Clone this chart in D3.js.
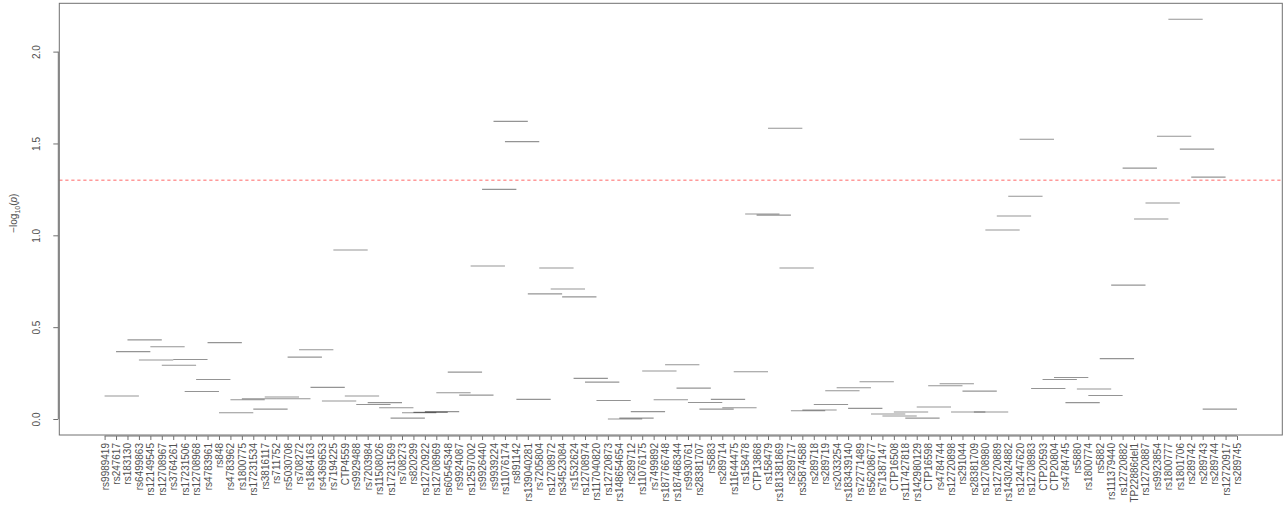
<!DOCTYPE html>
<html>
<head>
<meta charset="utf-8">
<script src="https://cdn.jsdelivr.net/npm/d3@7"></script>
<style>
  html, body { margin: 0; padding: 0; background: #ffffff; }
  svg { display: block; font-family: "Liberation Sans", Arial, sans-serif; }
</style>
</head>
<body>
<svg id="chart" width="1286" height="506"></svg>
<script>
// ---- data ----
const snpLabels = [
  "rs9989419","rs247617","rs183130","rs6499863","rs12149545","rs12708967","rs3764261","rs17231506","rs12708968","rs4783961",
  "rs848","rs4783962","rs1800775","rs17231534","rs3816117","rs711752","rs5030708","rs708272","rs1864163","rs4369653",
  "rs7194225","CTP4559","rs9929488","rs7203984","rs11508026","rs17231569","rs708273","rs820299","rs12720922","rs12708969",
  "rs60545348","rs9924087","rs12597002","rs9926440","rs9939224","rs11076174","rs891142","rs139040281","rs7205804","rs12708972",
  "rs34523084","rs1532624","rs12708974","rs117040820","rs12720873","rs148654654","rs289712","rs11076175","rs7499892","rs187766748",
  "rs187468344","rs9930761","rs28381707","rs5883","rs289714","rs11644475","rs158478","CTP13868","rs158479","rs181381869",
  "rs289717","rs35874588","rs289718","rs289719","rs2033254","rs183439140","rs72771489","rs56208677","rs71387147","CTP16508",
  "rs117427818","rs142980129","CTP16598","rs4784744","rs12720898","rs291044","rs28381709","rs12708980","rs12720889","rs143024882",
  "rs12447620","rs12708983","CTP20593","CTP20804","rs4784745","rs5880","rs1800774","rs5882","rs111379440","rs12720882",
  "TP22886del1","rs12720887","rs9923854","rs1800777","rs1801706","rs289742","rs289743","rs289744","rs12720917","rs289745"
];
// -log10(p) of each sliding window; window k covers SNPs k .. k+3
const windowValues = [
  0.125,0.367,0.431,0.321,0.393,0.293,0.324,0.150,0.215,0.416,
  0.034,0.105,0.110,0.054,0.120,0.110,0.337,0.377,0.172,0.098,
  0.920,0.125,0.079,0.089,0.061,0.005,0.034,0.036,0.040,0.143,
  0.255,0.130,0.833,1.250,1.620,1.510,0.107,0.681,0.822,0.708,
  0.665,0.221,0.201,0.101,0.000,0.005,0.040,0.261,0.105,0.295,
  0.168,0.090,0.054,0.107,0.061,0.257,1.116,1.110,1.583,0.822,
  0.045,0.049,0.079,0.154,0.170,0.058,0.203,0.027,0.016,0.038,
  0.005,0.065,0.181,0.192,0.038,0.152,0.038,1.029,1.105,1.213,
  1.523,0.166,0.215,0.226,0.089,0.163,0.128,0.329,0.729,1.366,
  1.089,1.176,1.539,2.176,1.469,1.317,0.054
];
const windowSpan = 3;          // each window spans 3 index units
const yTicks = [0, 0.5, 1, 1.5, 2];
const threshold = 1.3;         // -log10(0.05)

// ---- layout ----
const svg = d3.select("#chart");
const frame = { left: 59.3, right: 1282.3, top: 3.3, bottom: 435 };

const n = snpLabels.length;
const xPad = (n - 1) * 0.04;
const x = d3.scaleLinear().domain([1 - xPad, n + xPad]).range([frame.left, frame.right]);
const yMin = 0, yMax = d3.max(windowValues);
const yPad = (yMax - yMin) * 0.04;
const y = d3.scaleLinear().domain([yMin - yPad, yMax + yPad]).range([frame.bottom, frame.top]);

const axisColor = "#707070";
const textColor = "#505050";

// segments
svg.append("g")
  .selectAll("line")
  .data(windowValues)
  .join("line")
  .attr("x1", (d, i) => x(i + 1))
  .attr("x2", (d, i) => x(i + 1 + windowSpan))
  .attr("y1", d => y(d))
  .attr("y2", d => y(d))
  .attr("stroke", "#000")
  .attr("stroke-opacity", 0.42)
  .attr("stroke-width", 1.1);

// threshold line
svg.append("line")
  .attr("x1", frame.left).attr("x2", frame.right)
  .attr("y1", y(threshold)).attr("y2", y(threshold))
  .attr("stroke", "#ff9a9a")
  .attr("stroke-width", 1.5)
  .attr("stroke-dasharray", "3.2,2.8");

// frame
svg.append("rect")
  .attr("x", frame.left).attr("y", frame.top)
  .attr("width", frame.right - frame.left)
  .attr("height", frame.bottom - frame.top)
  .attr("fill", "none")
  .attr("stroke", axisColor)
  .attr("stroke-width", 1);

// y axis
const yAxis = d3.axisLeft(y).tickValues(yTicks).tickFormat(d3.format(".1f")).tickSize(5).tickPadding(9);
const gy = svg.append("g").attr("transform", `translate(${frame.left - 1},0)`).call(yAxis);
gy.selectAll(".domain").remove();
gy.append("path").attr("d", `M0,${y(0)}V${y(2)}`).attr("stroke", axisColor).attr("fill", "none");
gy.selectAll(".tick line").attr("stroke", axisColor);
gy.selectAll(".tick text")
  .attr("fill", textColor)
  .attr("font-size", "10px")
  .attr("x", 0).attr("dy", 0)
  .attr("text-anchor", "middle")
  .attr("transform", "translate(-18,0) rotate(-90)");

// x axis
const xAxis = d3.axisBottom(x).tickValues(d3.range(1, n + 1)).tickFormat(d => snpLabels[d - 1]).tickSize(4).tickPadding(4);
const gx = svg.append("g").attr("transform", `translate(0,${frame.bottom + 1})`).call(xAxis);
gx.select(".domain").remove();
gx.append("path").attr("d", `M${x(1)},0H${x(n)}`).attr("stroke", axisColor).attr("fill", "none");
gx.selectAll(".tick line").attr("stroke", axisColor);
gx.selectAll(".tick text")
  .attr("fill", textColor)
  .attr("font-size", "10px")
  .attr("text-anchor", "end")
  .attr("dy", "0.35em")
  .attr("x", 0).attr("y", 0)
  .attr("transform", "translate(0,7) rotate(-90)");

// y axis title
const title = svg.append("text")
  .attr("transform", `translate(17,${(frame.top + frame.bottom) / 2 - 6}) rotate(-90)`)
  .attr("text-anchor", "middle")
  .attr("fill", textColor)
  .attr("font-size", "10px");
title.append("tspan").text("\u2212log");
title.append("tspan").attr("font-size", "7px").attr("dy", "2.5").text("10");
title.append("tspan").attr("dy", "-2.5").text("(");
title.append("tspan").attr("font-style", "italic").text("p");
title.append("tspan").text(")");
</script>
</body>
</html>
